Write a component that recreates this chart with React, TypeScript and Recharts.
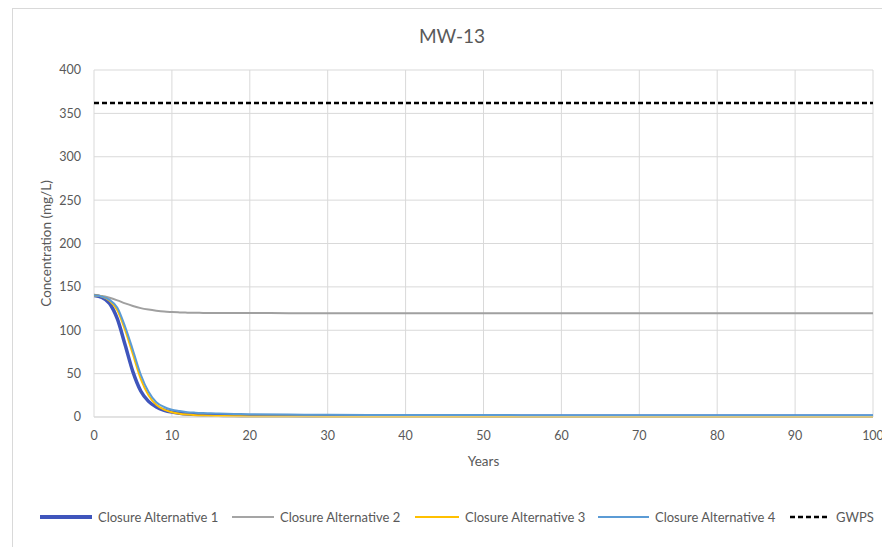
import React from 'react';
import { LineChart, Line, XAxis, YAxis, CartesianGrid, Legend } from 'recharts';

const years = [0, 1, 2, 3, 4, 5, 6, 7, 8, 9, 10, 11, 12, 13, 14, 15, 16, 18, 20, 25, 30, 40, 50, 60, 70, 80, 90, 100];
const alt1 = [140, 138, 131, 113, 83, 52, 30, 18, 11.5, 7.8, 5.6, 4.3, 3.4, 2.8, 2.4, 2.1, 1.9, 1.6, 1.5, 1.3, 1.2, 1.1, 1.0, 1.0, 1.0, 1.0, 1.0, 1.0];
const alt2 = [140, 139.5, 137.5, 134.5, 131, 128, 125.5, 123.8, 122.5, 121.5, 121, 120.6, 120.3, 120.1, 120, 119.9, 119.9, 119.8, 119.8, 119.7, 119.6, 119.5, 119.5, 119.5, 119.5, 119.5, 119.5, 119.5];
const alt3 = [140, 139, 134, 123, 100, 72, 44, 25, 14, 8.5, 5.5, 3.8, 2.8, 2.1, 1.7, 1.4, 1.2, 0.9, 0.7, 0.5, 0.4, 0.3, 0.3, 0.3, 0.3, 0.3, 0.3, 0.3];
const alt4 = [140, 139, 135, 126, 104, 77, 49, 29, 17, 11.5, 8.3, 6.8, 5.6, 5, 4.6, 4.3, 4, 3.6, 3.3, 2.8, 2.5, 2.3, 2.2, 2.1, 2.0, 2.0, 2.0, 2.0];
const gwpsYears = [0, 100];
const gwps = [362, 362];

const xTicks = [0, 10, 20, 30, 40, 50, 60, 70, 80, 90, 100];
const yTicks = [0, 50, 100, 150, 200, 250, 300, 350, 400];

const seriesNames = ['Closure Alternative 1', 'Closure Alternative 2', 'Closure Alternative 3', 'Closure Alternative 4', 'GWPS'];

const toData = (xs: number[], ys: number[]) => xs.map((x, i) => ({ year: x, value: ys[i] }));

const FONT = 'Lato, "Open Sans", sans-serif';
const TXT = '#595959';

const legendItems = [
  { name: seriesNames[0], color: '#3F55BC', width: 4, dash: undefined as string | undefined, len: 52, left: 40 },
  { name: seriesNames[1], color: '#A5A5A5', width: 2, dash: undefined, len: 42, left: 232 },
  { name: seriesNames[2], color: '#FFC000', width: 2, dash: undefined, len: 44, left: 415 },
  { name: seriesNames[3], color: '#5B9BD5', width: 2, dash: undefined, len: 51, left: 598 },
  { name: seriesNames[4], color: '#000000', width: 2.5, dash: '5 3', len: 40, left: 790 },
];

const LegendContent = () => (
  <div style={{ position: 'relative', width: 882, height: 18, fontFamily: FONT, fontSize: 13, color: TXT, whiteSpace: 'nowrap' }}>
    {legendItems.map((it) => (
      <div key={it.name} style={{ position: 'absolute', left: it.left, top: 0, height: 18, display: 'flex', alignItems: 'center' }}>
        <svg width={it.len} height={8} style={{ marginRight: 6 }}>
          <line x1={0} y1={4} x2={it.len} y2={4} stroke={it.color} strokeWidth={it.width} strokeDasharray={it.dash} />
        </svg>
        <span>{it.name}</span>
      </div>
    ))}
  </div>
);

export default function App() {
  return (
    <div style={{ position: 'absolute', left: 0, top: 0, width: 882, height: 547, background: '#fff', overflow: 'hidden' }}>
      <div style={{ position: 'absolute', left: 12, top: 8, width: 880, height: 560, border: '1px solid #D9D9D9', boxSizing: 'border-box' }} />
      <div style={{ position: 'absolute', left: 0, top: 24, width: 904, textAlign: 'center', fontFamily: FONT, fontSize: 19, color: TXT }}>MW-13</div>
      <LineChart width={882} height={547} margin={{ top: 70, right: 9, left: 0, bottom: 100 }} style={{ position: 'absolute', left: 0, top: 0 }}>
        <CartesianGrid stroke="#D9D9D9" strokeWidth={1} />
        <XAxis
          type="number"
          dataKey="year"
          domain={[0, 100]}
          ticks={xTicks}
          interval={0}
          allowDataOverflow
          tickLine={false}
          tickSize={0}
          tickMargin={14}
          axisLine={{ stroke: '#D9D9D9' }}
          height={30}
          tick={{ fill: TXT, fontSize: 12.5, fontFamily: FONT }}
          label={(props: any) => {
            const vb = props.viewBox;
            return (
              <text x={vb.x + vb.width / 2} y={461} textAnchor="middle" dominantBaseline="central" fill={TXT} fontSize={13.5} fontFamily={FONT}>
                Years
              </text>
            );
          }}
        />
        <YAxis
          type="number"
          domain={[0, 400]}
          ticks={yTicks}
          interval={0}
          width={94}
          tickLine={false}
          tickSize={0}
          tickMargin={13}
          axisLine={false}
          tick={{ fill: TXT, fontSize: 12.5, fontFamily: FONT }}
          label={(props: any) => {
            const vb = props.viewBox;
            const cy = vb.y + vb.height / 2;
            return (
              <text x={46} y={cy} transform={`rotate(-90 46 ${cy})`} textAnchor="middle" dominantBaseline="central" fill={TXT} fontSize={13.5} fontFamily={FONT}>
                Concentration (mg/L)
              </text>
            );
          }}
        />
        <Legend
          layout="horizontal"
          verticalAlign="middle"
          align="center"
          content={<LegendContent />}
          wrapperStyle={{ position: 'absolute', left: 0, top: 508, width: 882 }}
        />
        <Line data={toData(years, alt1)} dataKey="value" name={seriesNames[0]} type="monotone" stroke="#3F55BC" strokeWidth={3.5} dot={false} isAnimationActive={false} />
        <Line data={toData(years, alt2)} dataKey="value" name={seriesNames[1]} type="monotone" stroke="#A0A0A0" strokeWidth={2} dot={false} isAnimationActive={false} />
        <Line data={toData(years, alt3)} dataKey="value" name={seriesNames[2]} type="monotone" stroke="#FFC000" strokeWidth={2} dot={false} isAnimationActive={false} />
        <Line data={toData(years, alt4)} dataKey="value" name={seriesNames[3]} type="monotone" stroke="#5B9BD5" strokeWidth={2} dot={false} isAnimationActive={false} />
        <Line data={toData(gwpsYears, gwps)} dataKey="value" name={seriesNames[4]} type="linear" stroke="#000000" strokeWidth={2.5} strokeDasharray="5 3" dot={false} isAnimationActive={false} />
      </LineChart>
    </div>
  );
}
